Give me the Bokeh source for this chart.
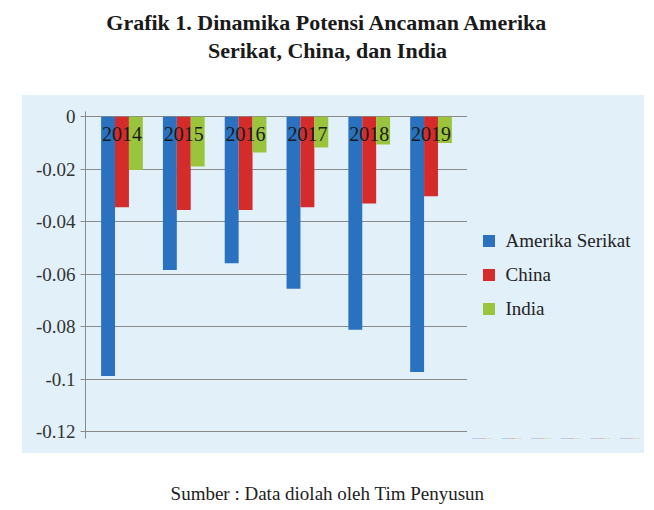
from bokeh.plotting import figure
from bokeh.models import (ColumnDataSource, FactorRange, Range1d, FixedTicker,
                          Legend, LegendItem, Spacer)
from bokeh.transform import dodge
from bokeh.layouts import column, row
from bokeh.embed import file_html
from bokeh.resources import INLINE

# ---- data ----
years = ["2014", "2015", "2016", "2017", "2018", "2019"]
amerika_serikat = [-0.0987, -0.0583, -0.0558, -0.0655, -0.0811, -0.0972]
china = [-0.0345, -0.0355, -0.0355, -0.0345, -0.0330, -0.0303]
india = [-0.0203, -0.0189, -0.0136, -0.0117, -0.0106, -0.0100]
series_names = ["Amerika Serikat", "China", "India"]
y_ticks = [0, -0.02, -0.04, -0.06, -0.08, -0.1, -0.12]
y_tick_labels = ["0", "-0.02", "-0.04", "-0.06", "-0.08", "-0.1", "-0.12"]

title_lines = ["Grafik 1. Dinamika Potensi Ancaman Amerika", "Serikat, China, dan India"]
caption = "Sumber : Data diolah oleh Tim Penyusun"

colors = ["#2a72bf", "#d42b2b", "#9bc43d"]
panel_bg = "#e2f0fa"
FONT = "Liberation Serif"

# ---- title figure ----
tw, th = 654, 95
tp = figure(width=tw, height=th, output_backend="svg", toolbar_location=None,
            x_range=Range1d(0, tw), y_range=Range1d(0, th), min_border=0)
tp.axis.visible = False
tp.grid.visible = False
tp.outline_line_color = None
tp.text(x=[tw / 2, tw / 2], y=[th - 22, th - 50], text=title_lines,
        text_font=FONT, text_font_size="22px", text_font_style="bold",
        text_color="#1a1a1a", text_align="center", text_baseline="middle")

# ---- chart figure ----
src = ColumnDataSource(dict(year=years, a=amerika_serikat, c=china, i=india,
                            zero=[0] * len(years)))
p = figure(width=445, height=358, output_backend="svg", toolbar_location=None,
           x_range=FactorRange(factors=years, range_padding=0.09, range_padding_units="absolute"),
           y_range=Range1d(-0.1225, 0.002),
           min_border_left=63, min_border_right=0, min_border_top=16, min_border_bottom=15)
p.background_fill_color = panel_bg
p.border_fill_color = panel_bg
p.outline_line_color = None

w = 0.225
cols = ["a", "c", "i"]
offsets = [-w, 0, w]
for col, off, color in zip(cols, offsets, colors):
    p.vbar(x=dodge("year", off, range=p.x_range), top=col, bottom=0, width=w,
           source=src, fill_color=color, line_color=None)

# category labels sit just under the zero line, as in the original
p.text(x="year", y="zero", text="year", source=src, text_font=FONT,
       text_font_size="20px", text_color="#1a1a1a", text_align="center",
       text_baseline="top", y_offset=10)

p.xaxis.visible = False
p.xgrid.visible = False
p.ygrid.grid_line_color = "#8a8a8a"
p.ygrid.ticker = FixedTicker(ticks=y_ticks)

ya = p.yaxis[0]
ya.ticker = FixedTicker(ticks=y_ticks)
ya.major_label_overrides = dict(zip(y_ticks, y_tick_labels))
ya.axis_line_color = "#8a8a8a"
ya.major_tick_line_color = "#8a8a8a"
ya.major_tick_out = 5
ya.major_tick_in = 0
ya.minor_tick_line_color = None
ya.major_label_text_font = FONT
ya.major_label_text_font_size = "19px"
ya.major_label_text_color = "#333333"
ya.major_label_standoff = 5

# ---- legend panel (continues the chart's light-blue panel) ----
# The same series are bound here only to feed the legend; the positive-only
# y range keeps the (negative) bars themselves far out of view.
lp = figure(width=177, height=358, output_backend="svg", toolbar_location=None,
            x_range=FactorRange(factors=years), y_range=Range1d(1, 2), min_border=0)
lp.axis.visible = False
lp.grid.visible = False
lp.outline_line_color = None
lp.background_fill_color = panel_bg
lp.border_fill_color = panel_bg
items = []
for name, col, off, color in zip(series_names, cols, offsets, colors):
    rr = lp.vbar(x=dodge("year", off, range=lp.x_range), top=col, bottom=0, width=w,
                 source=src, fill_color=color, line_color=None)
    items.append(LegendItem(label=name, renderers=[rr]))
legend = Legend(items=items, location="center", margin=0, padding=0, spacing=12,
                glyph_width=15, glyph_height=15, label_standoff=10, label_height=20,
                background_fill_alpha=0, border_line_color=None,
                label_text_font=FONT, label_text_font_size="19px", label_text_color="#222222")
lp.add_layout(legend)

# ---- caption figure ----
cw, ch = 654, 57
cp = figure(width=cw, height=ch, output_backend="svg", toolbar_location=None,
            x_range=Range1d(0, cw), y_range=Range1d(0, ch), min_border=0)
cp.axis.visible = False
cp.grid.visible = False
cp.outline_line_color = None
cp.text(x=[cw / 2], y=[17], text=[caption], text_font=FONT, text_font_size="19px",
        text_color="#222222", text_align="center", text_baseline="middle")

panel = row(p, lp, spacing=0, styles={"background-color": panel_bg})
layout = column(tp, row(Spacer(width=22, height=358), panel, spacing=0), cp, spacing=0)
open("out.html", "w").write(file_html(layout, INLINE))
